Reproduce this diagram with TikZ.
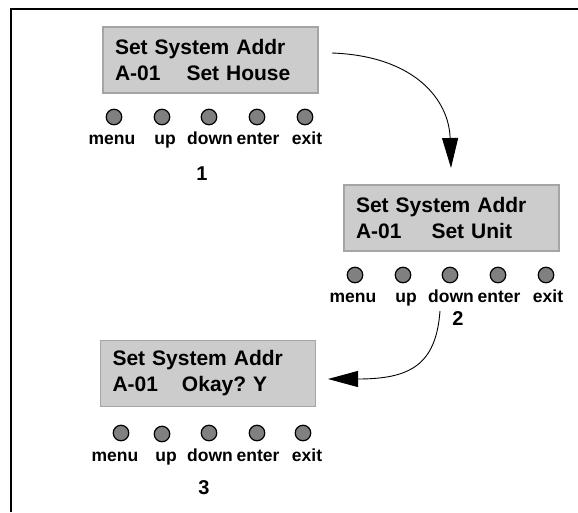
\documentclass[tikz,border=0pt]{standalone}
\usepackage{fontspec}
\setmainfont{Liberation Sans}
\usetikzlibrary{arrows.meta}
\definecolor{lcdgray}{RGB}{204,204,204}
\definecolor{lcdedge}{RGB}{165,165,165}
\definecolor{keygray}{RGB}{128,128,128}
\tikzset{
    lcd/.style={draw=lcdedge,fill=lcdgray,line width=1.5pt,text width=191pt,inner xsep=12pt,inner ysep=0pt,minimum height=66pt,align=left,font=\bfseries\fontsize{21}{26}\selectfont},
    key/.style={circle,draw=black,fill=keygray,line width=1.2pt,minimum size=15.5pt,inner sep=0pt},
    keyname/.style={inner sep=0pt,anchor=base,font=\bfseries\fontsize{17.5}{17.5}\selectfont},
    stepno/.style={inner sep=0pt,anchor=base,font=\bfseries\fontsize{20}{20}\selectfont},
    flow/.style={line width=0.9pt,-{Triangle[length=30pt,width=16pt]}}
}
\begin{document}
\begin{tikzpicture}[x=1pt,y=-1pt]
    \useasboundingbox (0,0) rectangle (578,512);
    \draw[line width=2pt] (11,512) -- (11,9) -- (578,9);

    % screen 1
    \node[lcd] (lcd1) at (210.5,60) {Set System Addr\\A-01\hspace{26pt}Set House};
    \node[key] (menu1) at (114,117) {};
    \node[key] (up1) at (162,117) {};
    \node[key] (down1) at (209,117) {};
    \node[key] (enter1) at (257,117) {};
    \node[key] (exit1) at (305,117) {};
    \node[keyname] (menuname1) at (112,144) {menu};
    \node[keyname] (upname1) at (165,144) {up};
    \node[keyname] (downname1) at (210,144) {down};
    \node[keyname] (entername1) at (258,144) {enter};
    \node[keyname] (exitname1) at (307,144) {exit};
    \node[stepno] (step1) at (202,180) {1};

    % screen 2
    \node[lcd] (lcd2) at (451.5,218) {Set System Addr\\A-01\hspace{30pt}Set Unit};
    \node[key] (menu2) at (355,275) {};
    \node[key] (up2) at (403,275) {};
    \node[key] (down2) at (450,275) {};
    \node[key] (enter2) at (498,275) {};
    \node[key] (exit2) at (546,275) {};
    \node[keyname] (menuname2) at (353,302) {menu};
    \node[keyname] (upname2) at (406,302) {up};
    \node[keyname] (downname2) at (451,302) {down};
    \node[keyname] (entername2) at (499,302) {enter};
    \node[keyname] (exitname2) at (548,302) {exit};
    \node[stepno] (step2) at (458,325) {2};

    % screen 3
    \node[lcd] (lcd3) at (208,373.5) {Set System Addr\\A-01\hspace{24pt}Okay?\hspace{7pt}Y};
    \node[key] (menu3) at (121,433) {};
    \node[key] (up3) at (162,434) {};
    \node[key] (down3) at (209,433) {};
    \node[key] (enter3) at (257,433) {};
    \node[key] (exit3) at (303,433) {};
    \node[keyname] (menuname3) at (115,461) {menu};
    \node[keyname] (upname3) at (166,461) {up};
    \node[keyname] (downname3) at (210,461) {down};
    \node[keyname] (entername3) at (258,461) {enter};
    \node[keyname] (exitname3) at (307,461) {exit};
    \node[stepno] (step3) at (204,494) {3};

    % arrows
    \coordinate (go1) at (332,53);
    \coordinate (in2) at (451,168);
    \draw[flow] (go1) .. controls (415,56) and (449,100) .. (in2);

    \coordinate (go2) at (440,311);
    \coordinate (in3) at (328,379);
    \draw[flow] (go2) .. controls (436,365) and (410,379) .. (in3);
\end{tikzpicture}
\end{document}
